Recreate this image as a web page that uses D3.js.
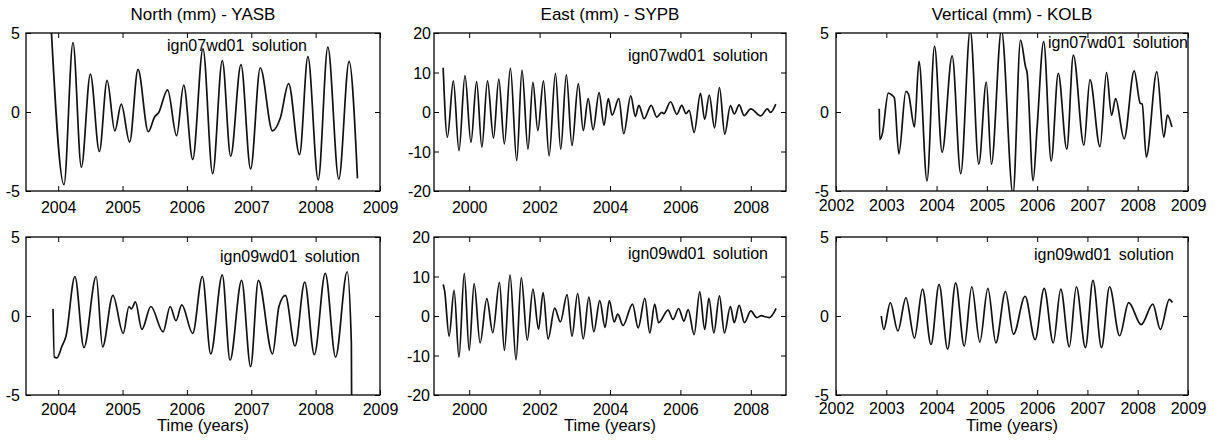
<!DOCTYPE html>
<html>
<head>
<meta charset="utf-8">
<script src="https://cdn.jsdelivr.net/npm/d3@7"></script>
<style>
  body { margin: 0; background: #fff; }
  svg text { font-family: "Liberation Sans", Arial, sans-serif; font-size: 16px; fill: #000; }
  svg text.title { font-size: 17px; }
  svg text.xtitle { font-size: 16.5px; }
</style>
</head>
<body>
<svg id="chart"></svg>
<script>
// ---- values: [year, mm] at turning points ----
var yasbNorth07 = [[2003.88, 6.2], [2004.09, -4.6], [2004.23, 4.4], [2004.36, -3.5], [2004.50, 2.4], [2004.64, -2.5],
    [2004.76, 2.0], [2004.88, -1.2], [2004.98, 0.5], [2005.11, -1.9], [2005.24, 2.7], [2005.40, -1.25], [2005.50, -0.3],
    [2005.56, -0.05], [2005.70, 1.4], [2005.84, -1.5], [2005.95, 1.7], [2006.09, -3.0], [2006.25, 4.0], [2006.40, -3.9],
    [2006.55, 3.25], [2006.68, -2.8], [2006.84, 3.0], [2006.99, -3.6], [2007.14, 2.8], [2007.33, -1.2], [2007.45, -0.4],
    [2007.58, 1.8], [2007.75, -2.7], [2007.88, 3.5], [2008.04, -4.3], [2008.19, 4.1], [2008.36, -4.25], [2008.52, 3.2],
    [2008.65, -4.2]];

var yasbNorth09 = [[2003.92, 0.45], [2003.94, -2.6], [2003.98, -2.65], [2004.06, -1.9], [2004.12, -1.3], [2004.26, 2.5],
    [2004.40, -2.0], [2004.59, 2.5], [2004.69, -1.95], [2004.85, 1.3], [2005.01, -1.1], [2005.10, 0.6], [2005.14, 0.45],
    [2005.20, 0.9], [2005.30, -0.85], [2005.44, 0.6], [2005.63, -1.0], [2005.74, 0.6], [2005.83, -0.3], [2005.92, 0.7],
    [2006.09, -1.1], [2006.24, 2.5], [2006.37, -2.4], [2006.55, 2.6], [2006.67, -2.8], [2006.85, 2.25], [2006.99, -3.2],
    [2007.11, 2.25], [2007.33, -2.4], [2007.43, 0.6], [2007.53, 1.3], [2007.68, -1.9], [2007.83, 2.15], [2007.98, -2.45],
    [2008.15, 2.7], [2008.31, -2.6], [2008.49, 2.8], [2008.555, -1.75], [2008.56, -6]];

var sypbEast07 = [[1999.26, 11.2], [1999.38, -6.4], [1999.55, 7.9], [1999.71, -9.8], [1999.88, 9.2], [2000.05, -7.7],
    [2000.21, 7.7], [2000.36, -8.9], [2000.52, 7.9], [2000.69, -6.6], [2000.84, 8.3], [2001.00, -8.1], [2001.17, 11.1],
    [2001.35, -12.3], [2001.50, 10.6], [2001.67, -9.4], [2001.81, 7.5], [2001.95, -4.7], [2002.11, 7.9], [2002.27, -11.1],
    [2002.45, 9.8], [2002.60, -9.4], [2002.76, 9.4], [2002.92, -8.5], [2003.10, 7.2], [2003.24, -4.7], [2003.38, 3.4],
    [2003.52, -4.5], [2003.69, 4.9], [2003.83, -3.4], [2003.95, 3.4], [2004.06, -0.8], [2004.25, 3.4], [2004.39, -5.5],
    [2004.59, 4.1], [2004.72, -1.1], [2004.82, 1.7], [2004.97, -1.7], [2005.17, 1.7], [2005.33, -1.3], [2005.47, -0.1],
    [2005.53, -0.4], [2005.72, 2.6], [2005.90, -0.6], [2006.04, 1.7], [2006.16, -0.4], [2006.25, 0.4], [2006.39, -5.2],
    [2006.57, 4.7], [2006.69, -1.9], [2006.82, 4.3], [2006.97, -4.0], [2007.11, 6.2], [2007.26, -5.6], [2007.42, 1.6],
    [2007.53, -0.5], [2007.67, 1.8], [2007.81, -0.9], [2008.00, 0.8], [2008.28, -1.0], [2008.47, 0.8], [2008.56, -0.1],
    [2008.71, 2.0]];

var sypbEast09 = [[1999.26, 8.0], [1999.30, 6.5], [1999.43, -5.1], [1999.57, 6.5], [1999.71, -10.4], [1999.86, 10.8],
    [2000.00, -8.7], [2000.14, 8.2], [2000.31, -6.8], [2000.50, 4.4], [2000.67, -4.2], [2000.86, 8.5], [2001.00, -8.7],
    [2001.16, 10.4], [2001.33, -11.1], [2001.48, 9.7], [2001.65, -6.1], [2001.81, 6.8], [2001.97, -3.3], [2002.10, 5.9],
    [2002.24, -5.8], [2002.43, 2.0], [2002.59, -1.5], [2002.78, 5.4], [2002.92, -5.1], [2003.08, 5.7], [2003.24, -5.8],
    [2003.40, 4.8], [2003.54, -4.0], [2003.71, 3.9], [2003.86, -2.9], [2003.98, 3.9], [2004.12, -1.5], [2004.22, 0.5],
    [2004.37, -2.4], [2004.64, 3.0], [2004.80, -3.0], [2004.99, 4.5], [2005.13, -4.3], [2005.27, 3.0], [2005.38, -1.7],
    [2005.65, 1.5], [2005.79, -0.85], [2005.95, 1.9], [2006.10, -1.3], [2006.22, 1.6], [2006.39, -4.7], [2006.55, 6.1],
    [2006.69, -3.4], [2006.81, 4.5], [2006.95, -4.3], [2007.11, 5.1], [2007.25, -4.3], [2007.42, 2.4], [2007.53, -1.7],
    [2007.67, 2.7], [2007.82, -1.7], [2008.00, 1.3], [2008.17, -0.4], [2008.30, 0.1], [2008.40, -0.2], [2008.53, -0.4],
    [2008.72, 1.9]];

var kolbVert07 = [[2002.86, 0.2], [2002.87, -1.75], [2002.92, -1.4], [2003.04, 1.2], [2003.12, 1.05], [2003.16, 0.9],
    [2003.25, -2.65], [2003.39, 1.3], [2003.44, 1.15], [2003.56, -0.95], [2003.65, 3.2], [2003.81, -4.35], [2003.96, 4.15],
    [2004.11, -2.55], [2004.31, 3.55], [2004.48, -3.9], [2004.67, 5.2], [2004.84, -3.3], [2004.99, 1.9], [2005.09, -3.3],
    [2005.29, 5.2], [2005.52, -5.2], [2005.67, 4.55], [2005.77, 2.85], [2005.80, 2.5], [2005.92, -4.35], [2006.00, -0.95],
    [2006.13, 4.45], [2006.28, -3.1], [2006.42, 2.45], [2006.59, -2.35], [2006.72, 3.6], [2006.93, -2.1], [2007.05, 2.05],
    [2007.25, -2.2], [2007.38, 2.5], [2007.48, -0.2], [2007.56, 0.85], [2007.73, -1.7], [2007.93, 2.6], [2008.05, 0.55],
    [2008.09, 0.5], [2008.17, -2.85], [2008.38, 2.55], [2008.52, -1.6], [2008.59, -0.2], [2008.68, -0.95]];

var kolbVert09 = [[2002.90, 0.0], [2002.95, -0.85], [2003.08, 0.85], [2003.23, -0.95], [2003.39, 1.15], [2003.56, -1.4],
    [2003.72, 1.7], [2003.89, -1.8], [2004.05, 2.0], [2004.22, -2.1], [2004.38, 2.1], [2004.55, -1.9], [2004.70, 1.85],
    [2004.86, -1.65], [2005.02, 1.75], [2005.18, -1.7], [2005.37, 1.55], [2005.53, -1.15], [2005.76, 1.25], [2005.96, -1.5],
    [2006.14, 1.75], [2006.32, -1.7], [2006.47, 1.7], [2006.64, -1.95], [2006.78, 1.85], [2006.96, -2.0], [2007.11, 2.25],
    [2007.28, -2.0], [2007.44, 1.85], [2007.64, -1.25], [2007.82, 0.85], [2008.07, -0.55], [2008.30, 0.75], [2008.45, -0.85],
    [2008.63, 1.05], [2008.69, 0.85]];

// ---- ticks, ranges and texts ----
var northYears = [2004, 2005, 2006, 2007, 2008, 2009];
var eastYears = [2000, 2002, 2004, 2006, 2008];
var vertYears = [2002, 2003, 2004, 2005, 2006, 2007, 2008, 2009];
var mmTicks5 = [-5, 0, 5];
var mmTicks20 = [-20, -10, 0, 10, 20];
var northRange = [2003.5, 2009];
var eastRange = [1999, 2009];
var vertRange = [2002, 2009];
var titles = ["North (mm) - YASB", "East (mm) - SYPB", "Vertical (mm) - KOLB"];
var solutions = ["ign07wd01 solution", "ign09wd01 solution"];
var xTitle = "Time (years)";

// ---- layout ----
var width = 1221, height = 446;
var columns = [{ x0: 26, x1: 380 }, { x0: 434, x1: 786 }, { x0: 836, x1: 1188 }];
var rows = [{ y0: 33, y1: 191 }, { y0: 237, y1: 395 }];

var panels = [
    { col: 0, row: 0, data: yasbNorth07, xr: northRange, xt: northYears, yr: [-5, 5], yt: mmTicks5, lx: 167, ly: 51, xdy: 21.5, gap: 6 },
    { col: 1, row: 0, data: sypbEast07, xr: eastRange, xt: eastYears, yr: [-20, 20], yt: mmTicks20, lx: 628, ly: 61, xdy: 22, gap: 3 },
    { col: 2, row: 0, data: kolbVert07, xr: vertRange, xt: vertYears, yr: [-5, 5], yt: mmTicks5, lx: 1048, ly: 48, xdy: 19.5, gap: 7 },
    { col: 0, row: 1, data: yasbNorth09, xr: northRange, xt: northYears, yr: [-5, 5], yt: mmTicks5, lx: 220, ly: 262, xdy: 20, gap: 6 },
    { col: 1, row: 1, data: sypbEast09, xr: eastRange, xt: eastYears, yr: [-20, 20], yt: mmTicks20, lx: 628, ly: 259, xdy: 19.5, gap: 4 },
    { col: 2, row: 1, data: kolbVert09, xr: vertRange, xt: vertYears, yr: [-5, 5], yt: mmTicks5, lx: 1034, ly: 260, xdy: 18.5, gap: 7 }
];

var svg = d3.select("#chart")
    .attr("width", width)
    .attr("height", height);

var tickLen = 5;

panels.forEach(function (p, i) {
    var c = columns[p.col], r = rows[p.row];
    var x = d3.scaleLinear().domain(p.xr).range([c.x0, c.x1]);
    var y = d3.scaleLinear().domain(p.yr).range([r.y1, r.y0]);
    var g = svg.append("g");

    var clipId = "clip" + i;
    svg.append("clipPath").attr("id", clipId)
        .append("rect")
        .attr("x", c.x0).attr("y", r.y0)
        .attr("width", c.x1 - c.x0).attr("height", r.y1 - r.y0);

    var line = d3.line()
        .x(function (d) { return x(d[0]); })
        .y(function (d) { return y(d[1]); })
        .curve(d3.curveMonotoneX);

    g.append("path")
        .datum(p.data)
        .attr("clip-path", "url(#" + clipId + ")")
        .attr("d", line)
        .attr("fill", "none")
        .attr("stroke", "#111")
        .attr("stroke-width", 1.7)
        .attr("stroke-linejoin", "round");

    // bottom axis with labels, ticks pointing in
    var bottom = g.append("g")
        .attr("transform", "translate(0," + r.y1 + ")")
        .call(d3.axisBottom(x).tickValues(p.xt).tickSizeInner(-tickLen).tickSizeOuter(0).tickFormat(String));
    bottom.selectAll("text").attr("y", p.xdy).attr("dy", null);

    g.append("g")
        .attr("transform", "translate(0," + r.y0 + ")")
        .call(d3.axisTop(x).tickValues(p.xt).tickSizeInner(-tickLen).tickSizeOuter(0).tickFormat(""));

    // left axis with labels
    var left = g.append("g")
        .attr("transform", "translate(" + c.x0 + ",0)")
        .call(d3.axisLeft(y).tickValues(p.yt).tickSizeInner(-tickLen).tickSizeOuter(0).tickPadding(p.gap).tickFormat(String));
    left.selectAll("text").attr("dy", "0.36em");

    g.append("g")
        .attr("transform", "translate(" + c.x1 + ",0)")
        .call(d3.axisRight(y).tickValues(p.yt).tickSizeInner(-tickLen).tickSizeOuter(0).tickFormat(""));

    g.selectAll(".domain").remove();
    g.selectAll(".tick line").attr("stroke", "#000").attr("stroke-width", 1);

    g.append("rect")
        .attr("x", c.x0).attr("y", r.y0)
        .attr("width", c.x1 - c.x0).attr("height", r.y1 - r.y0)
        .attr("fill", "none")
        .attr("stroke", "#000")
        .attr("stroke-width", 1.3);

    g.append("text")
        .attr("x", p.lx)
        .attr("y", p.ly)
        .style("word-spacing", "3px")
        .text(solutions[p.row]);

    if (p.row === 0) {
        g.append("text")
            .attr("class", "title")
            .attr("x", (c.x0 + c.x1) / 2)
            .attr("y", 19.5)
            .attr("text-anchor", "middle")
            .text(titles[p.col]);
    } else {
        g.append("text")
            .attr("class", "xtitle")
            .attr("x", (c.x0 + c.x1) / 2)
            .attr("y", 431)
            .attr("text-anchor", "middle")
            .text(xTitle);
    }
});
</script>
</body>
</html>
